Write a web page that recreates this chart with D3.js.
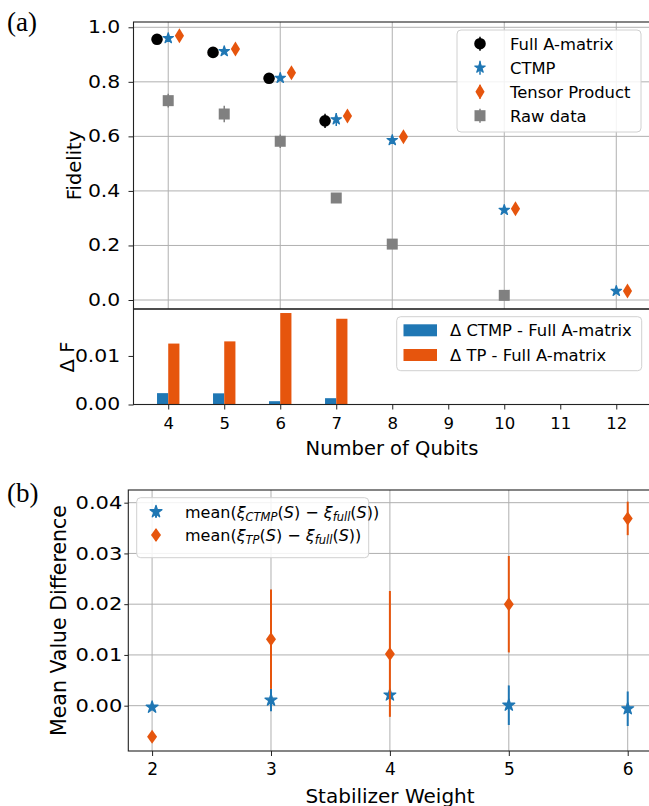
<!DOCTYPE html>
<html>
<head>
<meta charset="utf-8">
<script src="https://cdn.jsdelivr.net/npm/d3@7"></script>
<style>
  body { margin: 0; background: #fff; }
  svg text { font-family: "DejaVu Sans", sans-serif; fill: #000; }
</style>
</head>
<body>
<svg id="chart" width="649" height="806"></svg>
<script>
// ---- data ----
const qubits = [4, 5, 6, 7, 8, 10, 12];
const fullQubits = [4, 5, 6, 7];
const fullFid = [0.956, 0.908, 0.813, 0.657];
const fullErr = [0.008, 0.008, 0.008, 0.026];
const ctmpFid = [0.960, 0.912, 0.814, 0.662, 0.586, 0.330, 0.033];
const ctmpErr = [0.008, 0.008, 0.008, 0.024, 0.008, 0.008, 0.006];
const tpFid = [0.969, 0.920, 0.833, 0.675, 0.599, 0.335, 0.033];
const tpErr = [0.005, 0.005, 0.005, 0.010, 0.005, 0.005, 0.005];
const rawQubits = [4, 5, 6, 7, 8, 10];
const rawFid = [0.731, 0.682, 0.582, 0.374, 0.205, 0.017];
const rawErr = [0.025, 0.030, 0.025, 0.010, 0.008, 0.008];
const fidTicks = [0.0, 0.2, 0.4, 0.6, 0.8, 1.0];
const fidGridX = [4, 6, 8, 10, 12];

const barQubits = [4, 5, 6, 7];
const dCtmp = [0.00234, 0.00230, 0.00068, 0.00130];
const dTp = [0.01255, 0.01300, 0.01884, 0.01766];
const barYTicks = [0.00, 0.01];
const barXTicks = [4, 5, 6, 7, 8, 9, 10, 11, 12];

const weights = [2, 3, 4, 5, 6];
const ctmpMean = [-0.0003, 0.0011, 0.0021, 0.0001, -0.0006];
const ctmpStd = [0.0003, 0.0022, 0.0008, 0.0039, 0.0034];
const tpMean = [-0.0061, 0.0131, 0.0102, 0.0200, 0.0369];
const tpStd = [0.0006, 0.0098, 0.0124, 0.0095, 0.0033];
const diffTicks = [0.00, 0.01, 0.02, 0.03, 0.04];

const blue = "#1f77b4", orange = "#e6550d", gray = "#808080";

const svg = d3.select("#chart");

// ---- scales ----
let xTop = d3.scaleLinear().domain([3.38, 12.62]).range([133.5, 651]);
let yTop = d3.scaleLinear().domain([-0.033, 1.0194]).range([309, 22]);
let yBar = d3.scaleLinear().domain([0, 0.01967]).range([404.5, 309]);
let xBot = d3.scaleLinear().domain([1.8, 6.2]).range([128.3, 651.5]);
let yBot = d3.scaleLinear().domain([-0.00893, 0.0425]).range([751, 490]);

// markers
const thinDiamond = (w, h) => `M0,${-h}L${w},0L0,${h}L${-w},0Z`;
const star = s => d3.symbol(d3.symbolStar, s)();
const circle = r => d3.symbol(d3.symbolCircle, Math.PI * r * r)();
const square = a => d3.symbol(d3.symbolSquare, a * a)();

function frame(x0, y0, x1, y1) {
  svg.append("rect")
    .attr("x", x0).attr("y", y0)
    .attr("width", x1 - x0).attr("height", y1 - y0)
    .attr("fill", "none").attr("stroke", "#222").attr("stroke-width", 1.1);
}

function styleYAxis(g, size, stretch) {
  g.select(".domain").remove();
  g.selectAll("line").attr("stroke", "#222").attr("stroke-width", 1);
  g.selectAll("text")
    .style("font-size", size + "px")
    .attr("transform", "scale(" + stretch + ",1)");
}

function styleXAxis(g, size) {
  g.select(".domain").remove();
  g.selectAll("line").attr("stroke", "#222").attr("stroke-width", 1);
  g.selectAll("text").style("font-size", size + "px");
}

function errSeries(g, xs, ys, es, xsc, ysc, color, pathStr, lw, edge) {
  let pts = xs.map((x, i) => ({x: x, y: ys[i], e: es[i]}));
  g.selectAll(null).data(pts).join("line")
    .attr("x1", d => xsc(d.x)).attr("x2", d => xsc(d.x))
    .attr("y1", d => ysc(d.y - d.e)).attr("y2", d => ysc(d.y + d.e))
    .attr("stroke", color).attr("stroke-width", lw);
  g.selectAll(null).data(pts).join("path")
    .attr("d", pathStr)
    .attr("transform", d => "translate(" + xsc(d.x) + "," + ysc(d.y) + ")")
    .attr("fill", color)
    .attr("stroke", color).attr("stroke-width", edge || 0)
    .attr("stroke-linejoin", "round");
}

// ================= panel (a) top: fidelity =================
let gTop = svg.append("g");
gTop.selectAll(null).data(fidGridX).join("line")
  .attr("x1", d => xTop(d)).attr("x2", d => xTop(d))
  .attr("y1", 22).attr("y2", 309)
  .attr("stroke", "#b0b0b0").attr("stroke-width", 1);
gTop.selectAll(null).data(fidTicks).join("line")
  .attr("x1", 133.5).attr("x2", 651)
  .attr("y1", d => yTop(d)).attr("y2", d => yTop(d))
  .attr("stroke", "#b0b0b0").attr("stroke-width", 1);

errSeries(gTop, fullQubits.map(q => q - 0.2), fullFid, fullErr, xTop, yTop, "#000", circle(5.8), 1.5);
errSeries(gTop, qubits, ctmpFid, ctmpErr, xTop, yTop, blue, star(34), 1.5, 1.2);
errSeries(gTop, qubits.map(q => q + 0.2), tpFid, tpErr, xTop, yTop, orange, thinDiamond(4.6, 7.5), 1.5);
errSeries(gTop, rawQubits, rawFid, rawErr, xTop, yTop, gray, square(11), 1.5);

let yAxTop = svg.append("g").attr("transform", "translate(133.5,0)")
  .call(d3.axisLeft(yTop).tickValues(fidTicks).tickFormat(d3.format(".1f")).tickSize(5).tickPadding(6));
styleYAxis(yAxTop, 17, 1.2);
frame(133.5, 22, 651, 309);

svg.append("text").attr("transform", "translate(81,165.5) rotate(-90)")
  .attr("text-anchor", "middle").style("font-size", "19.5px").text("Fidelity");

// legend (a) top
let legTop = svg.append("g");
legTop.append("rect").attr("x", 457).attr("y", 30).attr("width", 184).attr("height", 102)
  .attr("rx", 4).attr("fill", "#fff").attr("fill-opacity", 0.85)
  .attr("stroke", "#d0d0d0").attr("stroke-width", 1);
const legTopLabels = ["Full A-matrix", "CTMP", "Tensor Product", "Raw data"];
const legTopColors = ["#000", blue, orange, gray];
const legTopMarks = [circle(5.8), star(34), thinDiamond(4.6, 7.5), square(11)];
const legTopEdges = [0, 1.2, 0, 0];
legTopLabels.forEach((lab, i) => {
  let y = 43.7 + i * 24;
  legTop.append("line").attr("x1", 480).attr("x2", 480).attr("y1", y - 7).attr("y2", y + 7)
    .attr("stroke", legTopColors[i]).attr("stroke-width", 1.5);
  legTop.append("path").attr("d", legTopMarks[i]).attr("transform", "translate(480," + y + ")")
    .attr("fill", legTopColors[i]).attr("stroke", legTopColors[i])
    .attr("stroke-width", legTopEdges[i]).attr("stroke-linejoin", "round");
  legTop.append("text").attr("x", 510).attr("y", y + 6).style("font-size", "16.4px").text(lab);
});

// ================= panel (a) bottom: delta F bars =================
let gBar = svg.append("g");
let bw = xTop(0.2) - xTop(0);
gBar.selectAll(null).data(barQubits.map((q, i) => ({q: q, v: dCtmp[i]}))).join("rect")
  .attr("x", d => xTop(d.q - 0.2)).attr("width", bw)
  .attr("y", d => yBar(d.v)).attr("height", d => yBar(0) - yBar(d.v))
  .attr("fill", blue);
gBar.selectAll(null).data(barQubits.map((q, i) => ({q: q, v: dTp[i]}))).join("rect")
  .attr("x", d => xTop(d.q)).attr("width", bw)
  .attr("y", d => yBar(d.v)).attr("height", d => yBar(0) - yBar(d.v))
  .attr("fill", orange);

let yAxBar = svg.append("g").attr("transform", "translate(133.5,0)")
  .call(d3.axisLeft(yBar).tickValues(barYTicks).tickFormat(d3.format(".2f")).tickSize(5).tickPadding(6));
styleYAxis(yAxBar, 17, 1.2);
let xAxBar = svg.append("g").attr("transform", "translate(0,404.5)")
  .call(d3.axisBottom(xTop).tickValues(barXTicks).tickFormat(d3.format("d")).tickSize(5).tickPadding(8));
styleXAxis(xAxBar, 16.5);
frame(133.5, 309, 651, 404.5);

svg.append("text").attr("transform", "translate(74,357) rotate(-90)")
  .attr("text-anchor", "middle").style("font-size", "19.5px").text("Δ F");
svg.append("text").attr("x", 392).attr("y", 454.5)
  .attr("text-anchor", "middle").style("font-size", "19.5px").text("Number of Qubits");

let legBar = svg.append("g");
legBar.append("rect").attr("x", 396.7).attr("y", 316.7).attr("width", 245).attr("height", 54)
  .attr("rx", 4).attr("fill", "#fff").attr("fill-opacity", 0.85)
  .attr("stroke", "#d0d0d0").attr("stroke-width", 1);
const legBarLabels = ["Δ CTMP - Full A-matrix", "Δ TP - Full A-matrix"];
const legBarColors = [blue, orange];
legBarLabels.forEach((lab, i) => {
  let y = 330.3 + i * 24.7;
  legBar.append("rect").attr("x", 403.5).attr("y", y - 6).attr("width", 33.5).attr("height", 12)
    .attr("fill", legBarColors[i]);
  legBar.append("text").attr("x", 450).attr("y", y + 6).style("font-size", "16.4px").text(lab);
});

svg.append("text").attr("x", 7).attr("y", 31)
  .style("font-family", "'Liberation Serif', 'DejaVu Serif', serif").style("font-size", "27px").text("(a)");

// ================= panel (b) =================
let gBot = svg.append("g");
gBot.selectAll(null).data(weights).join("line")
  .attr("x1", d => xBot(d)).attr("x2", d => xBot(d))
  .attr("y1", 490).attr("y2", 751)
  .attr("stroke", "#b0b0b0").attr("stroke-width", 1);
gBot.selectAll(null).data(diffTicks).join("line")
  .attr("x1", 128.3).attr("x2", 651.5)
  .attr("y1", d => yBot(d)).attr("y2", d => yBot(d))
  .attr("stroke", "#b0b0b0").attr("stroke-width", 1);

errSeries(gBot, weights, ctmpMean, ctmpStd, xBot, yBot, blue, star(44), 2, 1.3);
errSeries(gBot, weights, tpMean, tpStd, xBot, yBot, orange, thinDiamond(5, 7), 2);

let yAxBot = svg.append("g").attr("transform", "translate(128.3,0)")
  .call(d3.axisLeft(yBot).tickValues(diffTicks).tickFormat(d3.format(".2f")).tickSize(4).tickPadding(1));
styleYAxis(yAxBot, 17.5, 1.2);
let xAxBot = svg.append("g").attr("transform", "translate(0,751)")
  .call(d3.axisBottom(xBot).tickValues(weights).tickFormat(d3.format("d")).tickSize(5).tickPadding(7));
styleXAxis(xAxBot, 17);
frame(128.3, 490, 651.5, 751);

svg.append("text").attr("transform", "translate(66,620.5) rotate(-90)")
  .attr("text-anchor", "middle").style("font-size", "20.5px").text("Mean Value Difference");
svg.append("text").attr("x", 390).attr("y", 802.5)
  .attr("text-anchor", "middle").style("font-size", "20px").text("Stabilizer Weight");

let legBot = svg.append("g");
legBot.append("rect").attr("x", 136.7).attr("y", 497.7).attr("width", 232).attr("height", 60)
  .attr("rx", 4).attr("fill", "#fff").attr("fill-opacity", 0.85)
  .attr("stroke", "#d0d0d0").attr("stroke-width", 1);
const legBotSubs = ["CTMP", "TP"];
const legBotColors = [blue, orange];
const legBotMarks = [star(44), thinDiamond(5, 7)];
const legBotEdges = [1.3, 0];
legBotSubs.forEach((sub, i) => {
  let y = 511.7 + i * 23.3;
  legBot.append("line").attr("x1", 156).attr("x2", 156).attr("y1", y - 6).attr("y2", y + 6)
    .attr("stroke", legBotColors[i]).attr("stroke-width", 2);
  legBot.append("path").attr("d", legBotMarks[i]).attr("transform", "translate(156," + y + ")")
    .attr("fill", legBotColors[i]).attr("stroke", legBotColors[i])
    .attr("stroke-width", legBotEdges[i]).attr("stroke-linejoin", "round");
  let t = legBot.append("text").attr("x", 185).attr("y", y + 6).style("font-size", "16px");
  t.append("tspan").text("mean(");
  t.append("tspan").style("font-style", "italic").text("ξ");
  t.append("tspan").style("font-style", "italic").style("font-size", "11.5px").attr("dy", 3).text(sub);
  t.append("tspan").attr("dy", -3).text("(");
  t.append("tspan").style("font-style", "italic").text("S");
  t.append("tspan").text(") − ");
  t.append("tspan").style("font-style", "italic").text("ξ");
  t.append("tspan").style("font-style", "italic").style("font-size", "11.5px").attr("dy", 3).text("full");
  t.append("tspan").attr("dy", -3).text("(");
  t.append("tspan").style("font-style", "italic").text("S");
  t.append("tspan").text("))");
});

svg.append("text").attr("x", 7).attr("y", 502)
  .style("font-family", "'Liberation Serif', 'DejaVu Serif', serif").style("font-size", "27px").text("(b)");
</script>
</body>
</html>
